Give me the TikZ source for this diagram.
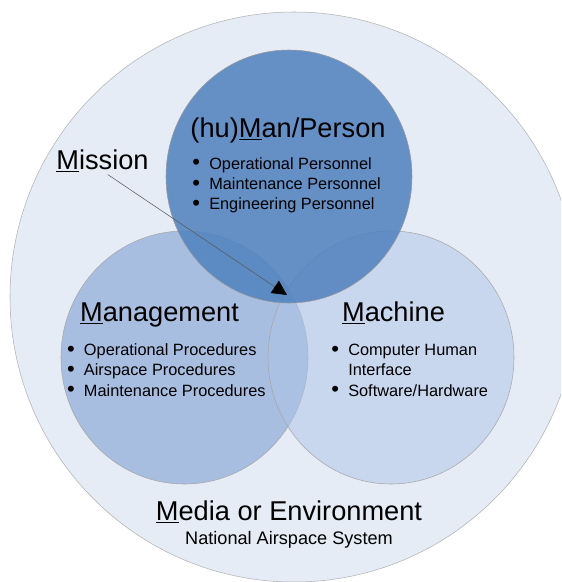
\documentclass[tikz,border=0pt]{standalone}
\usepackage{fontspec}
\setmainfont{Liberation Sans}
\usetikzlibrary{shapes.geometric, arrows.meta, positioning}
\definecolor{envblue}{RGB}{230,236,246}
\definecolor{mgmtblue}{RGB}{168,190,224}
\definecolor{machblue}{RGB}{173,196,231}
\definecolor{manblue}{RGB}{79,129,189}
\tikzstyle{media} = [ellipse, inner sep = 0, minimum width = 426pt, minimum height = 427.5pt, draw = gray!60, fill = envblue]
\tikzstyle{mgmt} = [ellipse, inner sep = 0, minimum width = 185.25pt, minimum height = 189.75pt, draw = gray!70, fill = mgmtblue]
\tikzstyle{mach} = [ellipse, inner sep = 0, minimum width = 184.5pt, minimum height = 189.75pt, draw = gray!70, fill = machblue, fill opacity = 0.5]
\tikzstyle{man} = [ellipse, inner sep = 0, minimum width = 184.5pt, minimum height = 189.75pt, draw = gray!80, fill = manblue, fill opacity = 0.85]
\tikzstyle{title} = [inner sep = 0, anchor = base, font = \fontsize{20.4}{24}\selectfont]
\tikzstyle{subtitle} = [inner sep = 0, anchor = base, font = \fontsize{13.6}{16}\selectfont]
\tikzstyle{items} = [inner sep = 0, anchor = base west, font = \fontsize{12.25}{15.2}\selectfont]
\tikzstyle{arrow} = [draw = black!65, line width = 0.4pt, -{Triangle[length = 11pt, width = 11pt, black]}]
\newcommand{\bul}{\makebox[12pt][l]{\hspace{-0.6pt}\raisebox{-0.6pt}{\fontsize{16.5}{15.2}\selectfont\textbullet}}}
\newcommand{\nobul}{\makebox[12pt][l]{}}

\begin{document}
\begin{tikzpicture}[x = 0.75pt, y = -0.75pt]
    \useasboundingbox (0,0) rectangle (561,582);
    \clip (0,0) rectangle (561,582);
    % \node(label)[style]{text};
    \node(env)[media] at (294,297){};
    \node(mgmtc)[mgmt] at (184.5,357.5){};
    \node(machc)[mach] at (391,357.5){};
    \node(manc)[man] at (289,176.5){};

    \node(mantitle)[title] at (288,137.7){(hu)\underline{M}an/Person};
    \node(manlist)[items] at (193,169){\begin{tabular}[t]{@{}l@{}}
        \bul Operational Personnel\\
        \bul Maintenance Personnel\\
        \bul Engineering Personnel
    \end{tabular}};
    \node(mgmttitle)[title] at (159.5,321.7){\underline{M}anagement};
    \node(mgmtlist)[items] at (67.7,355.5){\begin{tabular}[t]{@{}l@{}}
        \bul Operational Procedures\\
        \bul Airspace Procedures\\
        \bul Maintenance Procedures
    \end{tabular}};
    \node(machtitle)[title] at (393.5,321.7){\underline{M}achine};
    \node(machlist)[items] at (332,355.5){\begin{tabular}[t]{@{}l@{}}
        \bul Computer Human\\
        \nobul Interface\\
        \bul Software/Hardware
    \end{tabular}};
    \node(envtitle)[title] at (289,520.7){\underline{M}edia or Environment};
    \node(envsub)[subtitle] at (289,544.3){National Airspace System};
    \node(mission)[title] at (102.5,169){\underline{M}ission};

    \coordinate(tip) at (287,295);
    \draw[arrow]([xshift = 4pt, yshift = -2pt]mission.south)--(tip);
\end{tikzpicture}
\end{document}
